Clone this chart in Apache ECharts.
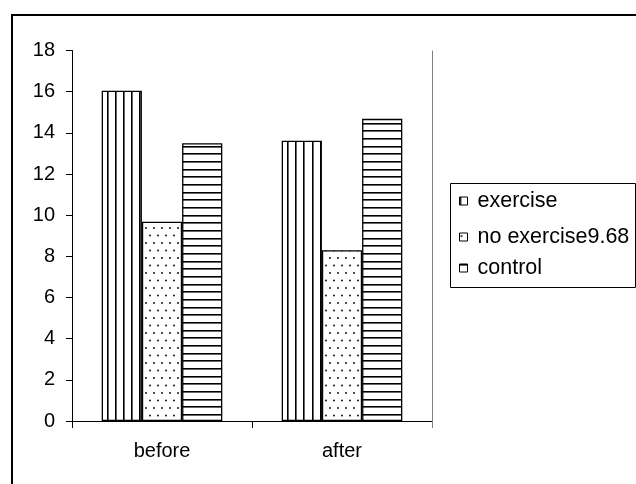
<!DOCTYPE html>
<html><head><meta charset="utf-8">
<script src="https://cdn.jsdelivr.net/npm/echarts@6/dist/echarts.min.js"></script>
<style>html,body{margin:0;padding:0;background:#fff}#c{width:636px;height:484px}</style>
</head><body><div id="c"></div>
<script>
const categories = ['before', 'after'];
const seriesNames = ['exercise', 'no exercise9.68', 'control'];
const exercise = [16.05, 13.62];
const noExercise = [9.68, 8.3];
const control = [13.5, 14.68];
const yMin = 0, yMax = 18, yStep = 2;

function vStripes() {
  const c = document.createElement('canvas'); c.width = 41; c.height = 4;
  const g = c.getContext('2d'); g.fillStyle = '#fff'; g.fillRect(0, 0, 41, 4);
  for (let i = 0; i < 5; i++) {
    const x = Math.round(i * 8.2);
    g.fillStyle = '#000'; g.fillRect(x, 0, 1, 4);
    g.fillStyle = '#666'; g.fillRect(x + 1, 0, 1, 4);
  }
  return c;
}
function hStripes() {
  const c = document.createElement('canvas'); c.width = 4; c.height = 23;
  const g = c.getContext('2d'); g.fillStyle = '#fff'; g.fillRect(0, 0, 4, 23);
  [0, 8, 15].forEach(y => {
    g.fillStyle = '#000'; g.fillRect(0, y, 4, 1);
    g.fillStyle = '#666'; g.fillRect(0, y + 1, 4, 1);
  });
  return c;
}
function dots() {
  const c = document.createElement('canvas'); c.width = 8; c.height = 15;
  const g = c.getContext('2d'); g.fillStyle = '#fff'; g.fillRect(0, 0, 8, 15);
  g.fillStyle = '#222';
  [[2, 3], [6, 10.5]].forEach(p => { g.beginPath(); g.arc(p[0], p[1], 1.05, 0, Math.PI * 2); g.fill(); });
  return c;
}
const patterns = [vStripes(), dots(), hStripes()];
const values = [exercise, noExercise, control];

const chart = echarts.init(document.getElementById('c'), null, { renderer: 'canvas' });
const font = 'Liberation Sans, Arial, sans-serif';
const legendCenters = [201, 237, 268];

chart.setOption({
  backgroundColor: '#fff',
  animation: false,
  grid: { left: 72, right: 204, top: 50.5, bottom: 63 },
  xAxis: {
    type: 'category', data: categories,
    axisLine: { lineStyle: { color: '#000', width: 1 } },
    axisTick: { show: true, length: 7, lineStyle: { color: '#000' } },
    axisLabel: { color: '#000', fontSize: 20, fontFamily: font, margin: 20 },
    splitLine: { show: false }
  },
  yAxis: {
    type: 'value', min: yMin, max: yMax, interval: yStep,
    axisLine: { show: true, lineStyle: { color: '#000', width: 1 } },
    axisTick: { show: true, length: 6, lineStyle: { color: '#000' } },
    axisLabel: { color: '#000', fontSize: 20, fontFamily: font, margin: 17 },
    splitLine: { show: false }
  },
  legend: seriesNames.map((n, i) => ({
    data: [n], orient: 'vertical', left: 459, top: legendCenters[i] - 11,
    padding: 0, itemWidth: 8, itemHeight: 8, icon: 'rect',
    textStyle: { color: '#000', fontSize: 21.5, fontFamily: font, padding: [0, 0, 0, 5] },
    itemStyle: { borderColor: '#000', borderWidth: 1 },
    selectedMode: false
  })),
  series: seriesNames.map((n, i) => ({
    name: n, type: 'bar', data: values[i],
    barGap: '0%', barCategoryGap: '33%',
    itemStyle: { color: { image: patterns[i], repeat: 'repeat' }, borderColor: '#000', borderWidth: 1.3 }
  })),
  graphic: [
    { type: 'rect', silent: true, z: 100, shape: { x: 12, y: 15, width: 1000, height: 1000 },
      style: { fill: 'none', stroke: '#000', lineWidth: 2 } },
    { type: 'rect', silent: true, z: 100, shape: { x: 450.5, y: 183.5, width: 185, height: 104 },
      style: { fill: 'none', stroke: '#000', lineWidth: 1 } },
    { type: 'line', silent: true, z: 100, shape: { x1: 432.5, y1: 50.5, x2: 432.5, y2: 428 },
      style: { stroke: '#808080', lineWidth: 1 } }
  ]
});
</script></body></html>
